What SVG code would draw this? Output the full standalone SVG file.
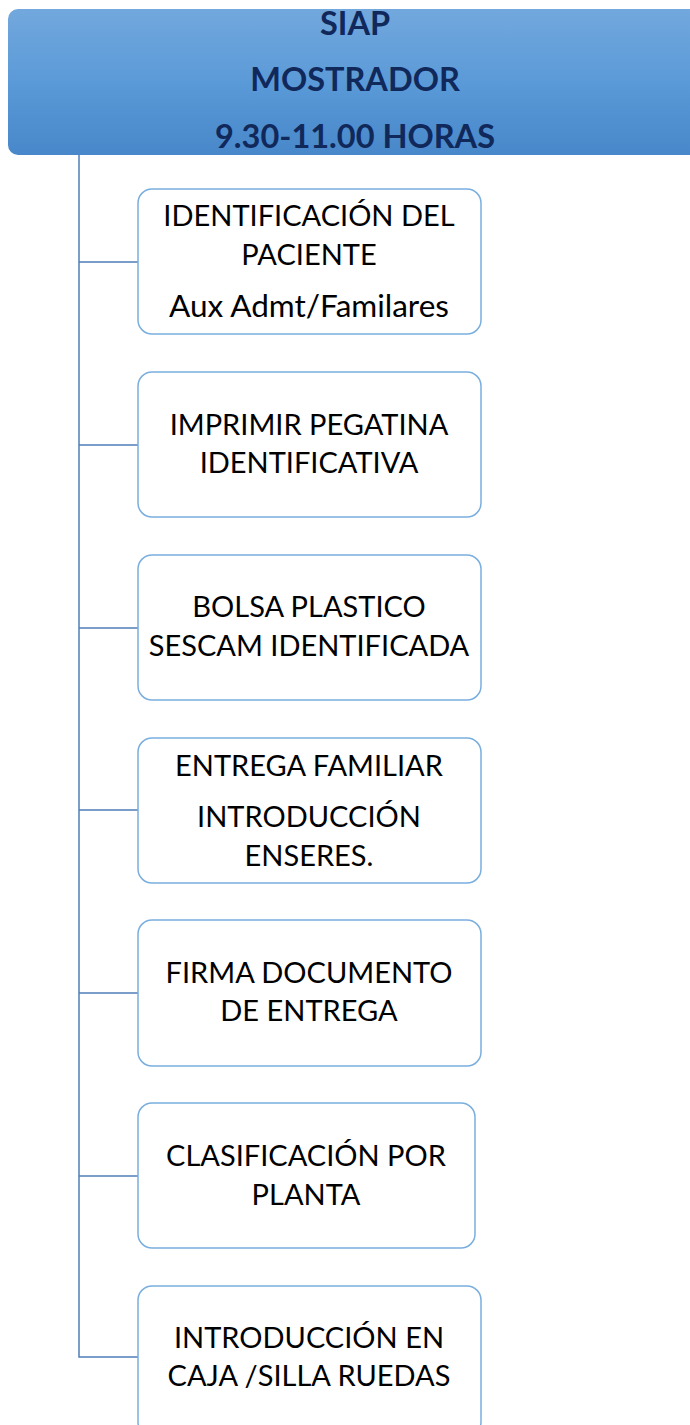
<svg xmlns="http://www.w3.org/2000/svg" width="690" height="1425" viewBox="0 0 690 1425">
<style>
.box{fill:#fff;stroke:#7aaedf;stroke-width:1.5}
.t{font-family:Lato,"Liberation Sans",sans-serif;font-size:29px;fill:#000;text-anchor:middle}
.h{font-family:Lato,"Liberation Sans",sans-serif;font-size:32.5px;font-weight:bold;fill:#10285a;text-anchor:middle}
.c{stroke:#4f7fb8;stroke-width:1.5;fill:none}
</style>
<defs>
<linearGradient id="g" x1="0" y1="0" x2="0" y2="1">
<stop offset="0" stop-color="#72a8dd"/>
<stop offset="0.5" stop-color="#5b9ad8"/>
<stop offset="1" stop-color="#4887c9"/>
</linearGradient>
</defs>
<g id="connectors">
<path class="c" d="M79 155V1357H138M79 262H138M79 445H138M79 628H138M79 810H138M79 993H138M79 1176H138"/>
</g>
<g id="header">
<rect x="8" y="9" width="700" height="146" rx="10" fill="url(#g)"/>
<text class="h" x="355" y="35">SIAP</text>
<text class="h" x="355" y="91">MOSTRADOR</text>
<text class="h" x="355" y="148">9.30-11.00 HORAS</text>
</g>
<g id="n1">
<rect class="box" x="138" y="189" width="343" height="145" rx="14"/>
<text class="t" x="309" y="226">IDENTIFICACIÓN DEL</text>
<text class="t" x="309" y="265">PACIENTE</text>
<text class="t" x="309" y="317" style="font-size:31.5px">Aux Admt/Familares</text>
</g>
<g id="n2">
<rect class="box" x="138" y="372" width="343" height="145" rx="14"/>
<text class="t" x="309" y="435">IMPRIMIR PEGATINA</text>
<text class="t" x="309" y="473">IDENTIFICATIVA</text>
</g>
<g id="n3">
<rect class="box" x="138" y="555" width="343" height="145" rx="14"/>
<text class="t" x="309" y="617">BOLSA PLASTICO</text>
<text class="t" x="309" y="656">SESCAM IDENTIFICADA</text>
</g>
<g id="n4">
<rect class="box" x="138" y="738" width="343" height="145" rx="14"/>
<text class="t" x="309" y="776">ENTREGA FAMILIAR</text>
<text class="t" x="309" y="827">INTRODUCCIÓN</text>
<text class="t" x="309" y="866">ENSERES.</text>
</g>
<g id="n5">
<rect class="box" x="138" y="920" width="343" height="146" rx="14"/>
<text class="t" x="309" y="983">FIRMA DOCUMENTO</text>
<text class="t" x="309" y="1021">DE ENTREGA</text>
</g>
<g id="n6">
<rect class="box" x="138" y="1103" width="337" height="145" rx="14"/>
<text class="t" x="306" y="1166">CLASIFICACIÓN POR</text>
<text class="t" x="306" y="1205">PLANTA</text>
</g>
<g id="n7">
<rect class="box" x="138" y="1286" width="343" height="150" rx="14"/>
<text class="t" x="309" y="1348">INTRODUCCIÓN EN</text>
<text class="t" x="309" y="1386">CAJA /SILLA RUEDAS</text>
</g>
</svg>
